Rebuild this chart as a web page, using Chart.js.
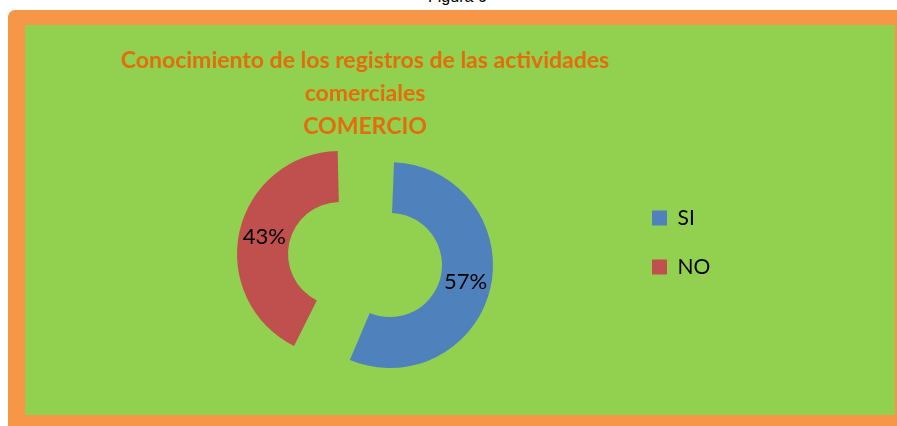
<!DOCTYPE html>
<html>
<head>
<meta charset="utf-8">
<script src="https://cdn.jsdelivr.net/npm/chart.js@4.4.0/dist/chart.umd.min.js"></script>
<style>
  html, body { margin: 0; padding: 0; background: #fff; }
  body { width: 897px; height: 426px; position: relative; overflow: hidden; }
  #fig { position: absolute; left: 428px; top: -11px; font: 16px/16px "Liberation Sans", sans-serif; color: #000; }
  #frame { position: absolute; left: 8px; top: 10px; width: 900px; height: 430px; background: #f79646; border-radius: 7px; }
  #plot { position: absolute; left: 25px; top: 25px; width: 870px; height: 390px; background: #92d050; }
</style>
</head>
<body>
<div id="fig">Figura 6</div>
<div id="frame"></div>
<div id="plot"><canvas id="chart"></canvas></div>
<script>
const categories = ['SI', 'NO']
const percents = [57, 43]
const chartTitle = ['Conocimiento de los registros de las actividades', 'comerciales', 'COMERCIO']

const sliceColors = ['#4f81bd', '#c0504d']
// both slices pulled ~25px out from the centre (chart.js moves an arc by offset/4)
const sliceOffsets = [102.4, 102.4]

const legendFont = { family: 'Lato', size: 21 }
const legendPad = 28
const legendBox = 15

// chart.js also grows the radius of an offset arc; undo that so both rings are equal
function arcGrowth(arc) {
  const off = (arc.options.offset || 0) / 4
  return off * (1 - Math.sin(Math.min(Math.PI, arc.circumference)))
}

const keepRadius = {
  id: 'keepRadius',
  beforeDatasetsDraw(chart) {
    const meta = chart.getDatasetMeta(0)
    const ctrl = meta.controller
    meta.data.forEach(function(arc) {
      const g = arcGrowth(arc)
      arc.outerRadius = ctrl.outerRadius - g
      arc.innerRadius = ctrl.innerRadius - g
    })
  }
}

// percentage text in the middle of each (offset) ring slice
const pctLabels = {
  id: 'pctLabels',
  afterDatasetsDraw(chart) {
    const ctx = chart.ctx
    const meta = chart.getDatasetMeta(0)
    ctx.save()
    ctx.font = '22px Lato'
    ctx.fillStyle = '#000'
    ctx.textAlign = 'center'
    ctx.textBaseline = 'middle'
    meta.data.forEach(function(arc, i) {
      const mid = (arc.startAngle + arc.endAngle) / 2
      const shift = (arc.options.offset || 0) / 4
      const r = (arc.innerRadius + arc.outerRadius) / 2 + arcGrowth(arc) + shift
      ctx.fillText(percents[i] + '%', arc.x + Math.cos(mid) * r, arc.y + Math.sin(mid) * r)
    })
    ctx.restore()
  }
}

// legend sits at x=599 inside the canvas; work out its natural width
const mctx = document.createElement('canvas').getContext('2d')
mctx.font = legendFont.size + 'px ' + legendFont.family
const textW = Math.max.apply(null, categories.map(function(c) { return mctx.measureText(c).width }))
const legendW = legendPad + legendBox + legendFont.size / 2 + textW + 10
const legendLeft = 599
const plotW = 870
const donutCx = 340

new Chart(document.getElementById('chart'), {
  type: 'doughnut',
  data: {
    labels: categories,
    datasets: [{
      data: percents,
      backgroundColor: sliceColors,
      borderWidth: 0,
      offset: sliceOffsets,
      hoverOffset: 0,
      radius: 103,
      cutout: '50.5%'
    }]
  },
  options: {
    responsive: true,
    maintainAspectRatio: false,
    animation: false,
    events: [],
    layout: {
      padding: {
        left: 2 * donutCx - legendLeft,
        right: plotW - legendLeft - legendW,
        top: 0,
        bottom: 0
      }
    },
    plugins: {
      title: {
        display: true,
        text: chartTitle,
        fullSize: false,
        color: '#e46c0a',
        font: { family: 'Lato', size: 23, weight: 'bold', lineHeight: 33 / 23 },
        padding: { top: 19, bottom: -39 }
      },
      legend: {
        position: 'right',
        title: { display: true, text: '', padding: { top: 0, bottom: 33 }, font: { size: 10, lineHeight: 1.2 } },
        labels: {
          boxWidth: legendBox,
          boxHeight: legendBox,
          padding: legendPad,
          color: '#000',
          font: legendFont
        }
      },
      tooltip: { enabled: false }
    }
  },
  plugins: [keepRadius, pctLabels]
})
</script>
</body>
</html>
